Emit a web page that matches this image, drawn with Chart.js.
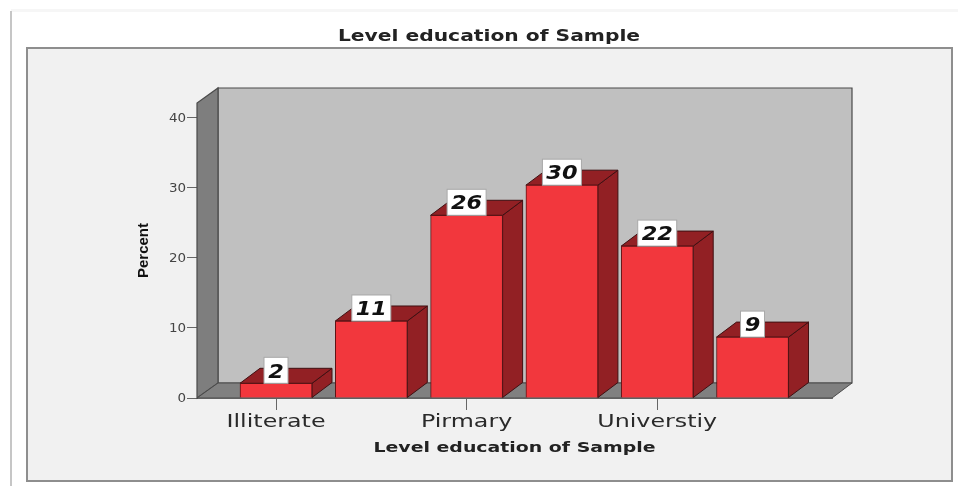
<!DOCTYPE html>
<html><head><meta charset="utf-8">
<style>html,body{margin:0;padding:0;background:#fff}#w{position:relative;width:958px;height:486px;overflow:hidden}canvas{display:block;filter:blur(0.55px)}</style>
<script src="https://cdn.jsdelivr.net/npm/chart.js@4/dist/chart.umd.min.js"></script>
</head><body><div id="w"><canvas id="c" width="958" height="486"></canvas></div>
<script>
const chartTitle = 'Level education of Sample';
const xAxisTitle = 'Level education of Sample';
const yAxisTitle = 'Percent';
const categories = ['Illiterate', '', 'Pirmary', '', 'Universtiy', ''];
const percentValues = [2.1, 11, 26.1, 30.4, 21.7, 8.7];
const yTicks = [0, 10, 20, 30, 40];

const DX = 20, DY = -15;
function poly(ctx, pts, fill, stroke, lw) {
  ctx.beginPath();
  pts.forEach((p, i) => i ? ctx.lineTo(p[0], p[1]) : ctx.moveTo(p[0], p[1]));
  ctx.closePath();
  ctx.fillStyle = fill; ctx.fill();
  ctx.strokeStyle = stroke; ctx.lineWidth = lw; ctx.stroke();
}
function withStretch(c, k, dy, fn) {
  const orig = c.fillText;
  c.fillText = function (t, x, y) {
    c.save(); c.translate(x, y + dy); c.scale(k, 1);
    orig.call(c, t, 0, 0);
    c.restore();
  };
  fn();
  delete c.fillText;
}
function stretched(obj, method, k, dy) {
  if (obj['_st' + method]) return;
  obj['_st' + method] = true;
  const orig = obj[method];
  obj[method] = function (...args) {
    withStretch(this.ctx, k, dy, () => orig.apply(this, args));
  };
}
const frame = {
  id: 'frame',
  afterLayout(chart) {
    chart.titleBlock.left = 0; chart.titleBlock.right = 978;
    stretched(chart.titleBlock, 'draw', 1.35, 1.5);
    stretched(chart.scales.x, 'drawLabels', 1.32, 0);
    stretched(chart.scales.x, 'drawTitle', 1.35, 1);
    stretched(chart.scales.y, 'drawLabels', 1.12, 1);
  },
  beforeDraw(chart) {
    const c = chart.ctx;
    c.save();
    c.fillStyle = '#fff'; c.fillRect(0, 0, 958, 486);
    c.fillStyle = '#f6f6f6'; c.fillRect(11, 9, 947, 3);
    c.fillStyle = '#c6c6c6'; c.fillRect(10, 11, 2, 475);
    c.fillStyle = '#f1f1f1'; c.strokeStyle = '#8e8e8e'; c.lineWidth = 2;
    c.fillRect(27, 48, 925, 433); c.strokeRect(27, 48, 925, 433);
    c.restore();
  },
  beforeDatasetsDraw(chart) {
    const c = chart.ctx, a = chart.chartArea;
    const edge = '#4a4a4a';
    c.save();
    poly(c, [[a.left + DX + 1, a.top + DY], [a.right + DX, a.top + DY], [a.right + DX, a.bottom + DY], [a.left + DX + 1, a.bottom + DY]], '#c0c0c0', edge, 1.2);
    poly(c, [[a.left, a.bottom], [a.left + DX + 1, a.bottom + DY], [a.left + DX + 1, a.top + DY], [a.left, a.top]], '#7e7e7e', edge, 1.2);
    poly(c, [[a.left, a.bottom], [a.right, a.bottom], [a.right + DX, a.bottom + DY], [a.left + DX + 1, a.bottom + DY]], '#808080', edge, 1);
    chart.getDatasetMeta(0).data.forEach(b => {
      const l = b.x - b.width / 2, r = b.x + b.width / 2;
      poly(c, [[r, b.y], [r + DX, b.y + DY], [r + DX, b.base + DY], [r, b.base]], '#922024', '#3f1012', 1);
      poly(c, [[l, b.y], [l + DX, b.y + DY], [r + DX, b.y + DY], [r, b.y]], '#922024', '#3f1012', 1);
    });
    c.restore();
  },
  afterDatasetsDraw(chart) {
    const c = chart.ctx;
    c.save();
    c.font = 'italic bold 20px "DejaVu Sans"';
    c.textAlign = 'center'; c.textBaseline = 'middle';
    chart.getDatasetMeta(0).data.forEach((b, i) => {
      const t = String(Math.round(percentValues[i]));
      const w = t.length > 1 ? 39 : 24, h = 26;
      c.fillStyle = '#fff'; c.strokeStyle = '#a8a8a8'; c.lineWidth = 1;
      c.fillRect(b.x - w / 2, b.y - h, w, h); c.strokeRect(b.x - w / 2, b.y - h, w, h);
      c.fillStyle = '#111';
      withStretch(c, 1.12, 2, () => c.fillText(t, b.x, b.y - h / 2));
    });
    c.restore();
  }
};

new Chart(document.getElementById('c'), {
  type: 'bar',
  data: {
    datasets: [{
      data: percentValues.map((v, i) => ({ x: i, y: v })),
      backgroundColor: '#f2373d',
      borderColor: '#5a1416',
      borderWidth: 1,
      barThickness: 72
    }]
  },
  plugins: [frame],
  options: {
    responsive: false,
    animation: false,
    devicePixelRatio: 1,
    layout: { padding: { left: 0, right: 126, top: 0, bottom: 0 } },
    plugins: {
      legend: { display: false },
      tooltip: { enabled: false },
      title: {
        display: true, text: chartTitle, color: '#222',
        font: { family: '"DejaVu Sans"', size: 15, weight: 'bold', lineHeight: 1.2 },
        padding: { top: 27, bottom: 58 }
      }
    },
    scales: {
      x: {
        type: 'linear', min: -0.829, max: 5.834, offset: false,
        afterFit(s) { s.height = 88; },
        border: { color: '#777', width: 1 },
        grid: { offset: false, drawOnChartArea: false, drawTicks: true, tickLength: 12, tickColor: '#666' },
        ticks: {
          stepSize: 2, includeBounds: false, autoSkip: false, maxRotation: 0, padding: 2,
          color: '#2a2a2a', font: { family: '"DejaVu Sans"', size: 18 },
          callback: v => categories[v] ?? ''
        },
        title: {
          display: true, text: xAxisTitle, color: '#222',
          font: { family: '"DejaVu Sans"', size: 14, weight: 'bold', lineHeight: 1.2 },
          padding: { top: 0, bottom: 30 }
        }
      },
      y: {
        min: 0, max: 42.14,
        afterFit(s) { s.width = 197; },
        afterBuildTicks(s) { s.ticks = yTicks.map(value => ({ value })); },
        border: { color: '#555', width: 1 },
        grid: { drawOnChartArea: false, tickLength: 10, tickColor: '#666' },
        ticks: { padding: 1, color: '#444', font: { family: '"DejaVu Sans"', size: 12 } },
        title: {
          display: true, text: yAxisTitle, color: '#111',
          font: { family: '"Liberation Sans"', size: 15, weight: 'bold', lineHeight: 1.2 },
          padding: { top: 135, bottom: 0 }
        }
      }
    }
  }
});
</script></body></html>
